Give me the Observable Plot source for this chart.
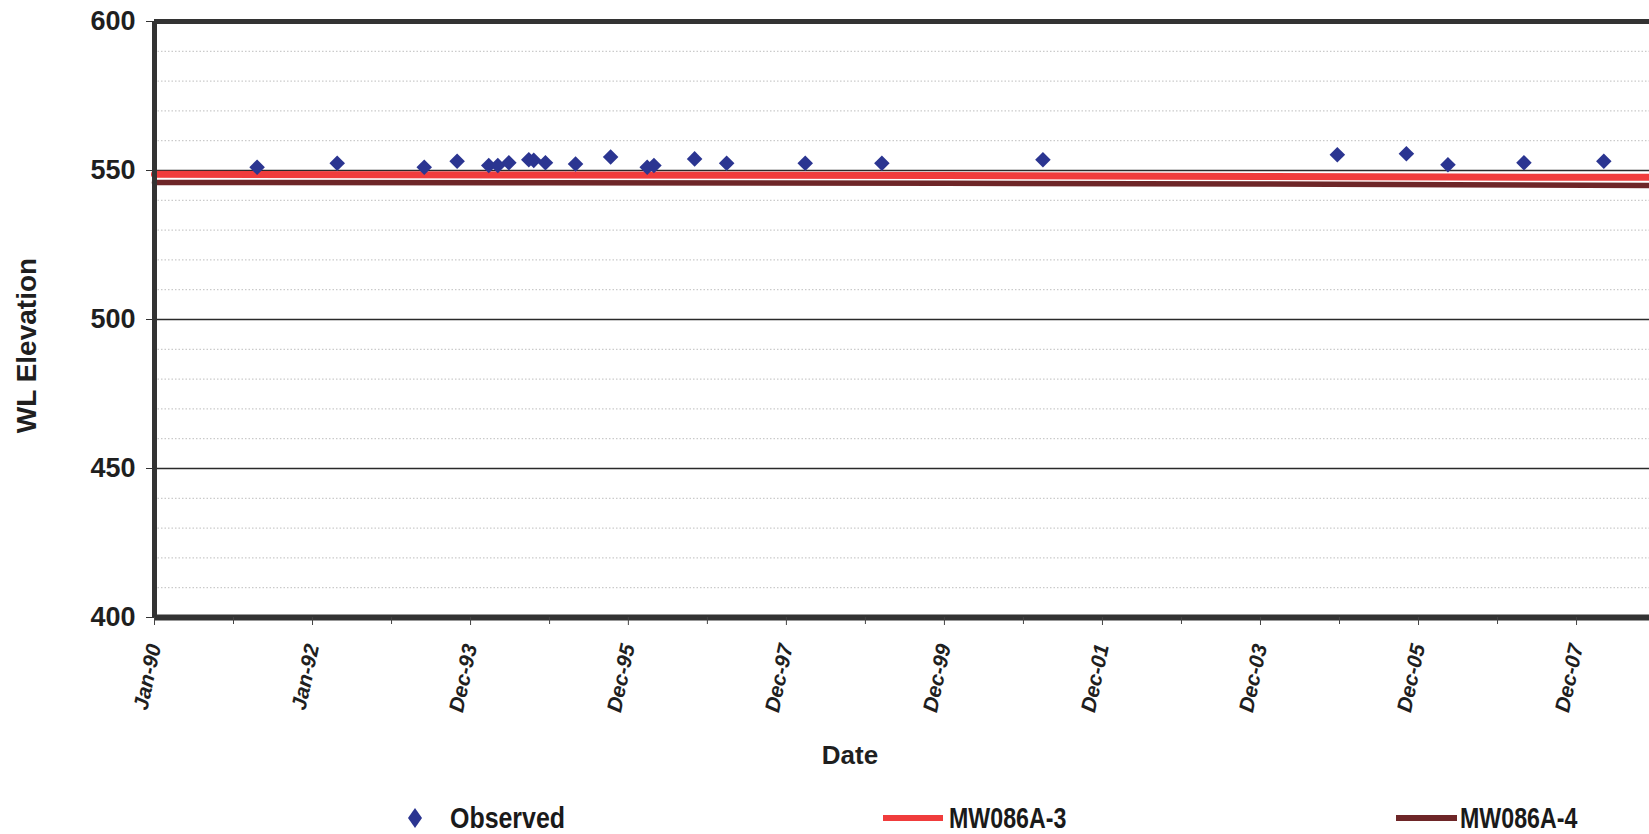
<!DOCTYPE html>
<html>
<head>
<meta charset="utf-8">
<script src="https://cdn.jsdelivr.net/npm/d3@7"></script>
<script src="https://cdn.jsdelivr.net/npm/@observablehq/plot@0.6"></script>
<style>
  html, body { margin: 0; padding: 0; background: #fff; }
  body { width: 1649px; height: 834px; position: relative; overflow: hidden; font-family: "Liberation Sans", Arial, sans-serif; }
  #chart svg { display: block; }
  .leg { position: absolute; top: 802px; height: 32px; display: flex; align-items: center; }
  .leg .txt { font-weight: bold; font-size: 29px; color: #1a1a1a; transform: scaleX(0.82); transform-origin: left center; white-space: nowrap; }
</style>
</head>
<body>
<div id="chart"></div>
<div class="leg" style="left:407px;"><svg width="16" height="22"><path d="M8,1 L15,11 L8,21 L1,11 Z" fill="#2b3591"/></svg><span class="txt" style="margin-left:27px; transform: scaleX(0.86);">Observed</span></div>
<div class="leg" style="left:883px;"><svg width="60" height="9"><rect x="0" y="1" width="60" height="6" fill="#f03c3c"/></svg><span class="txt" style="margin-left:6px; transform: scaleX(0.8);">MW086A-3</span></div>
<div class="leg" style="left:1396px;"><svg width="61" height="9"><rect x="0" y="1" width="61" height="6" fill="#6e2628"/></svg><span class="txt" style="margin-left:3px; transform: scaleX(0.8);">MW086A-4</span></div>
<script>
// ---- data ----
const obsDates = ["1991-04-20","1992-04-24","1993-05-31","1993-10-30","1994-03-25","1994-05-06","1994-06-26","1994-09-26","1994-10-19","1994-12-12","1995-04-30","1995-10-09","1996-03-26","1996-04-26","1996-10-31","1997-03-28","1998-03-26","1999-03-15","2001-03-28","2004-12-17","2005-11-01","2006-05-12","2007-04-28","2008-05-01"];
const obsValues = [551.1,552.4,551.1,553.1,551.7,551.7,552.6,553.6,553.4,552.6,552.2,554.5,551.1,551.7,553.9,552.4,552.4,552.4,553.6,555.3,555.6,551.9,552.6,553.1];

const modelDates = ["1990-01-01","1995-01-01","2000-01-01","2004-01-01","2006-06-01","2008-11-28"];
const mw3Values = [548.7,548.5,548.3,548.0,547.8,547.7];
const mw4Values = [546.0,545.9,545.7,545.5,545.2,545.0];

const xTickDates = ["1990-01-01","1992-01-01","1993-12-31","1995-12-30","1997-12-29","1999-12-29","2001-12-28","2003-12-28","2005-12-27","2007-12-27"];
const xTickLabels = ["Jan-90","Jan-92","Dec-93","Dec-95","Dec-97","Dec-99","Dec-01","Dec-03","Dec-05","Dec-07"];
const xDomain = ["1990-01-01","2008-11-28"];
const yTicks = [400,450,500,550,600];
const yMinor = [410,420,430,440,460,470,480,490,510,520,530,540,560,570,580,590];
const seriesNames = ["Observed","MW086A-3","MW086A-4"];

// ---- build ----
const parse = d3.utcParse("%Y-%m-%d");
const obs = obsDates.map((d, i) => ({date: parse(d), value: obsValues[i], series: seriesNames[0]}));
const mw3 = modelDates.map((d, i) => ({date: parse(d), value: mw3Values[i], series: seriesNames[1]}));
const mw4 = modelDates.map((d, i) => ({date: parse(d), value: mw4Values[i], series: seriesNames[2]}));
const majorDates = xTickDates.map(parse);
const minorDates = majorDates.map(d => d3.utcDay.offset(d, 365));
const labelOf = new Map(majorDates.map((d, i) => [+d, xTickLabels[i]]));
const x0 = parse(xDomain[0]);

const font = "'Liberation Sans', Arial, sans-serif";
const ink = "#1f1f1f";

const chart = Plot.plot({
  width: 1649,
  height: 790,
  marginLeft: 154,
  marginRight: 0,
  marginTop: 21,
  marginBottom: 173,
  style: {fontFamily: font, color: ink, background: "#fff", overflow: "visible"},
  x: {type: "utc", domain: xDomain.map(parse), label: null},
  y: {domain: [400, 600], label: null},
  marks: [
    Plot.ruleY(yMinor, {stroke: "#a8a8a8", strokeWidth: 1, strokeDasharray: "1.5,2", strokeOpacity: 0.75}),
    Plot.ruleY([450, 500, 550], {stroke: "#2a2a2a", strokeWidth: 1.3}),
    Plot.line(mw4, {x: "date", y: "value", stroke: "#6e2628", strokeWidth: 5.5}),
    Plot.line(mw3, {x: "date", y: "value", stroke: "#f03c3c", strokeWidth: 7}),
    Plot.dot(obs, {x: "date", y: "value", symbol: "diamond2", r: 7, fill: "#2b3591", stroke: "none"}),
    Plot.ruleY([600], {stroke: "#333", strokeWidth: 5}),
    Plot.ruleY([400], {stroke: "#333", strokeWidth: 6}),
    Plot.ruleX([x0], {stroke: "#333", strokeWidth: 5}),
    Plot.axisY({ticks: yTicks, tickSize: 8, tickPadding: 11, fontSize: 27, fontWeight: "bold", stroke: "#333", label: null}),
    Plot.axisX({ticks: minorDates, tickSize: 7, tickFormat: () => "", stroke: "#444", label: null}),
    Plot.axisX({ticks: majorDates, tickSize: 8, tickPadding: 19, tickRotate: -78, tickFormat: d => labelOf.get(+d), fontSize: 21, fontWeight: "bold", fontStyle: "italic", stroke: "#444", label: null}),
    Plot.text(["Date"], {frameAnchor: "bottom", dx: -52, dy: 146, fontSize: 26, fontWeight: "bold", fill: ink}),
    Plot.text(["WL Elevation"], {frameAnchor: "left", textAnchor: "middle", dx: -127, dy: 26, rotate: -90, fontSize: 28, fontWeight: "bold", fill: ink})
  ]
});
document.getElementById("chart").appendChild(chart);
</script>
</body>
</html>
